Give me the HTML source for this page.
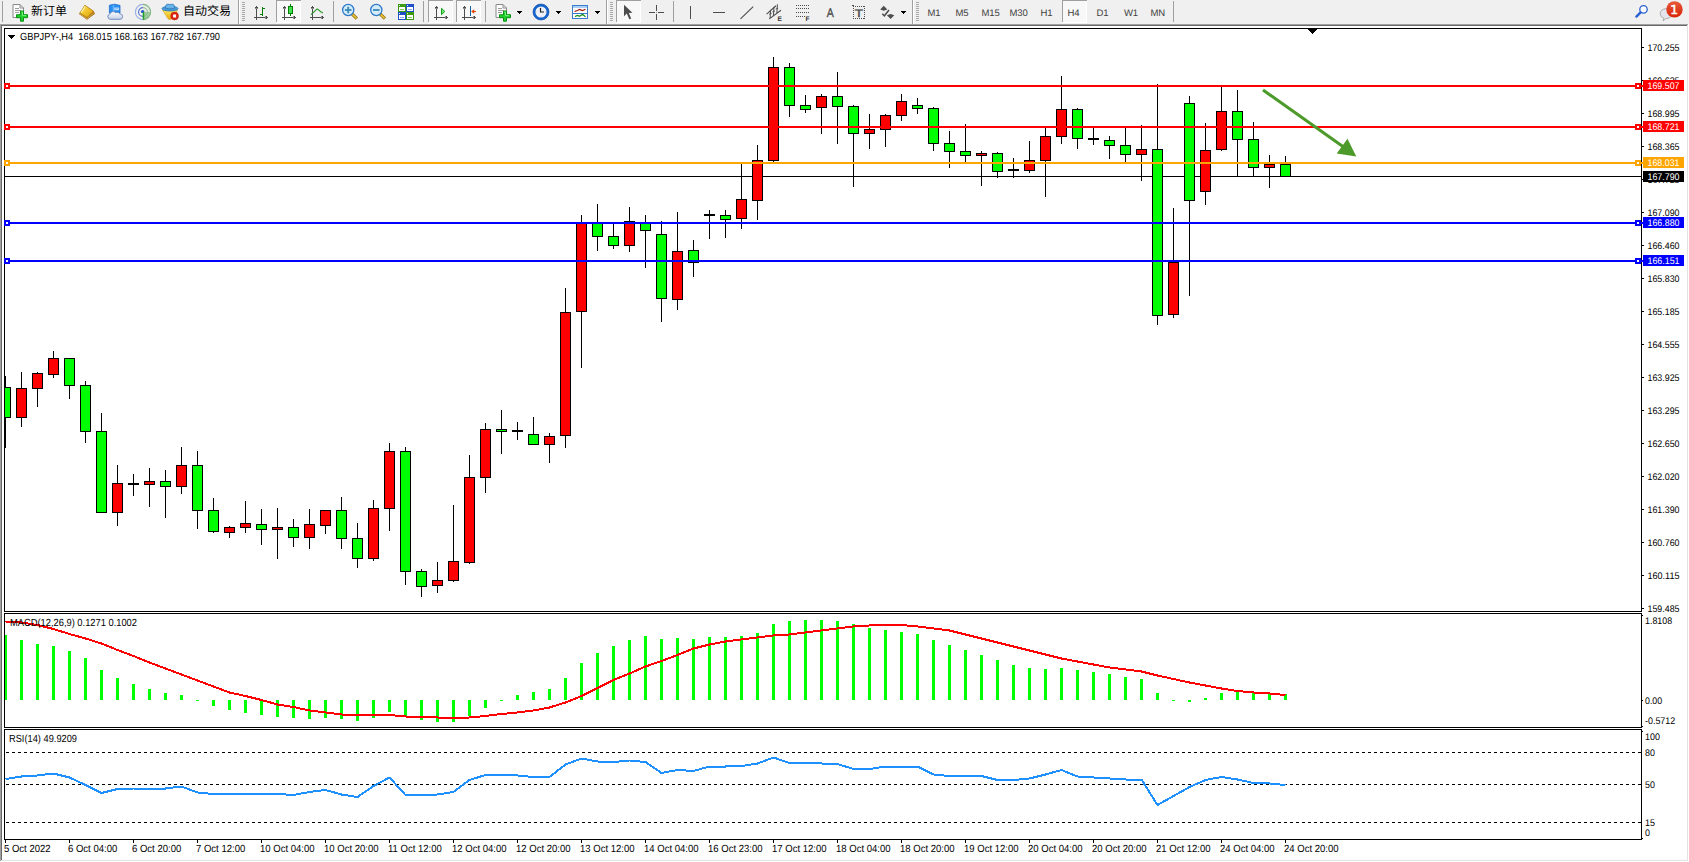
<!DOCTYPE html>
<html><head><meta charset="utf-8"><title>GBPJPY-,H4</title>
<style>
html,body{margin:0;padding:0;background:#f0f0f0;overflow:hidden}
svg{display:block;font-family:"Liberation Sans","Noto Sans CJK SC",sans-serif}
text{white-space:pre}
</style></head><body>
<svg width="1689" height="862" viewBox="0 0 1689 862" shape-rendering="crispEdges" text-rendering="geometricPrecision">
<rect x="0" y="0" width="1689" height="862" fill="#f0f0f0"/>
<rect x="0" y="24" width="1689" height="838" fill="#ffffff"/>
<rect x="0" y="24" width="1688" height="1" fill="#a0a0a0"/>
<rect x="0" y="24" width="1" height="837" fill="#a0a0a0"/>
<rect x="1" y="25" width="1686" height="1" fill="#696969"/>
<rect x="1" y="25" width="1" height="835" fill="#696969"/>
<rect x="1" y="860" width="1687" height="1" fill="#e3e3e3"/>
<rect x="1687" y="25" width="1" height="836" fill="#e3e3e3"/>
<rect x="4" y="28" width="1638" height="1" fill="#000"/>
<rect x="4" y="611" width="1638" height="1" fill="#000"/>
<rect x="4" y="28" width="1" height="584" fill="#000"/>
<rect x="1641" y="28" width="1" height="584" fill="#000"/>
<rect x="4" y="613" width="1638" height="1" fill="#000"/>
<rect x="4" y="727" width="1638" height="1" fill="#000"/>
<rect x="4" y="613" width="1" height="115" fill="#000"/>
<rect x="1641" y="613" width="1" height="115" fill="#000"/>
<rect x="4" y="729" width="1638" height="1" fill="#000"/>
<rect x="4" y="839" width="1638" height="1" fill="#000"/>
<rect x="4" y="729" width="1" height="111" fill="#000"/>
<rect x="1641" y="729" width="1" height="111" fill="#000"/>
<rect x="1642" y="47" width="2" height="1" fill="#000"/>
<text x="1647.5" y="51" font-size="9.6" fill="#000" textLength="32.0" lengthAdjust="spacingAndGlyphs">170.255</text>
<rect x="1642" y="80" width="2" height="1" fill="#000"/>
<text x="1647.5" y="84" font-size="9.6" fill="#000" textLength="32.0" lengthAdjust="spacingAndGlyphs">169.625</text>
<rect x="1642" y="113" width="2" height="1" fill="#000"/>
<text x="1647.5" y="117" font-size="9.6" fill="#000" textLength="32.0" lengthAdjust="spacingAndGlyphs">168.995</text>
<rect x="1642" y="146" width="2" height="1" fill="#000"/>
<text x="1647.5" y="150" font-size="9.6" fill="#000" textLength="32.0" lengthAdjust="spacingAndGlyphs">168.365</text>
<rect x="1642" y="179" width="2" height="1" fill="#000"/>
<text x="1647.5" y="183" font-size="9.6" fill="#000" textLength="32.0" lengthAdjust="spacingAndGlyphs">167.725</text>
<rect x="1642" y="212" width="2" height="1" fill="#000"/>
<text x="1647.5" y="216" font-size="9.6" fill="#000" textLength="32.0" lengthAdjust="spacingAndGlyphs">167.090</text>
<rect x="1642" y="245" width="2" height="1" fill="#000"/>
<text x="1647.5" y="249" font-size="9.6" fill="#000" textLength="32.0" lengthAdjust="spacingAndGlyphs">166.460</text>
<rect x="1642" y="278" width="2" height="1" fill="#000"/>
<text x="1647.5" y="282" font-size="9.6" fill="#000" textLength="32.0" lengthAdjust="spacingAndGlyphs">165.830</text>
<rect x="1642" y="311" width="2" height="1" fill="#000"/>
<text x="1647.5" y="315" font-size="9.6" fill="#000" textLength="32.0" lengthAdjust="spacingAndGlyphs">165.185</text>
<rect x="1642" y="344" width="2" height="1" fill="#000"/>
<text x="1647.5" y="348" font-size="9.6" fill="#000" textLength="32.0" lengthAdjust="spacingAndGlyphs">164.555</text>
<rect x="1642" y="377" width="2" height="1" fill="#000"/>
<text x="1647.5" y="381" font-size="9.6" fill="#000" textLength="32.0" lengthAdjust="spacingAndGlyphs">163.925</text>
<rect x="1642" y="410" width="2" height="1" fill="#000"/>
<text x="1647.5" y="414" font-size="9.6" fill="#000" textLength="32.0" lengthAdjust="spacingAndGlyphs">163.295</text>
<rect x="1642" y="443" width="2" height="1" fill="#000"/>
<text x="1647.5" y="447" font-size="9.6" fill="#000" textLength="32.0" lengthAdjust="spacingAndGlyphs">162.650</text>
<rect x="1642" y="476" width="2" height="1" fill="#000"/>
<text x="1647.5" y="480" font-size="9.6" fill="#000" textLength="32.0" lengthAdjust="spacingAndGlyphs">162.020</text>
<rect x="1642" y="509" width="2" height="1" fill="#000"/>
<text x="1647.5" y="513" font-size="9.6" fill="#000" textLength="32.0" lengthAdjust="spacingAndGlyphs">161.390</text>
<rect x="1642" y="542" width="2" height="1" fill="#000"/>
<text x="1647.5" y="546" font-size="9.6" fill="#000" textLength="32.0" lengthAdjust="spacingAndGlyphs">160.760</text>
<rect x="1642" y="575" width="2" height="1" fill="#000"/>
<text x="1647.5" y="579" font-size="9.6" fill="#000" textLength="32.0" lengthAdjust="spacingAndGlyphs">160.115</text>
<rect x="1642" y="608" width="2" height="1" fill="#000"/>
<text x="1647.5" y="612" font-size="9.6" fill="#000" textLength="32.0" lengthAdjust="spacingAndGlyphs">159.485</text>
<rect x="5" y="176" width="1636" height="1" fill="#000"/>
<g id="candles">
<rect x="5" y="376" width="1" height="72" fill="#000"/>
<rect x="0" y="387" width="11" height="31" fill="#000"/>
<rect x="1" y="388" width="9" height="29" fill="#00ff00"/>
<rect x="21" y="372" width="1" height="55" fill="#000"/>
<rect x="16" y="388" width="11" height="30" fill="#000"/>
<rect x="17" y="389" width="9" height="28" fill="#ff0000"/>
<rect x="37" y="372" width="1" height="35" fill="#000"/>
<rect x="32" y="373" width="11" height="16" fill="#000"/>
<rect x="33" y="374" width="9" height="14" fill="#ff0000"/>
<rect x="53" y="351" width="1" height="27" fill="#000"/>
<rect x="48" y="358" width="11" height="17" fill="#000"/>
<rect x="49" y="359" width="9" height="15" fill="#ff0000"/>
<rect x="69" y="358" width="1" height="41" fill="#000"/>
<rect x="64" y="358" width="11" height="28" fill="#000"/>
<rect x="65" y="359" width="9" height="26" fill="#00ff00"/>
<rect x="85" y="381" width="1" height="62" fill="#000"/>
<rect x="80" y="385" width="11" height="47" fill="#000"/>
<rect x="81" y="386" width="9" height="45" fill="#00ff00"/>
<rect x="101" y="413" width="1" height="100" fill="#000"/>
<rect x="96" y="431" width="11" height="82" fill="#000"/>
<rect x="97" y="432" width="9" height="80" fill="#00ff00"/>
<rect x="117" y="465" width="1" height="61" fill="#000"/>
<rect x="112" y="483" width="11" height="30" fill="#000"/>
<rect x="113" y="484" width="9" height="28" fill="#ff0000"/>
<rect x="133" y="474" width="1" height="22" fill="#000"/>
<rect x="128" y="483" width="11" height="2" fill="#000"/>
<rect x="149" y="468" width="1" height="39" fill="#000"/>
<rect x="144" y="481" width="11" height="4" fill="#000"/>
<rect x="145" y="482" width="9" height="2" fill="#ff0000"/>
<rect x="165" y="470" width="1" height="48" fill="#000"/>
<rect x="160" y="481" width="11" height="6" fill="#000"/>
<rect x="161" y="482" width="9" height="4" fill="#00ff00"/>
<rect x="181" y="447" width="1" height="47" fill="#000"/>
<rect x="176" y="465" width="11" height="22" fill="#000"/>
<rect x="177" y="466" width="9" height="20" fill="#ff0000"/>
<rect x="197" y="451" width="1" height="78" fill="#000"/>
<rect x="192" y="465" width="11" height="46" fill="#000"/>
<rect x="193" y="466" width="9" height="44" fill="#00ff00"/>
<rect x="213" y="498" width="1" height="35" fill="#000"/>
<rect x="208" y="510" width="11" height="22" fill="#000"/>
<rect x="209" y="511" width="9" height="20" fill="#00ff00"/>
<rect x="229" y="526" width="1" height="12" fill="#000"/>
<rect x="224" y="527" width="11" height="6" fill="#000"/>
<rect x="225" y="528" width="9" height="4" fill="#ff0000"/>
<rect x="245" y="501" width="1" height="32" fill="#000"/>
<rect x="240" y="523" width="11" height="5" fill="#000"/>
<rect x="241" y="524" width="9" height="3" fill="#ff0000"/>
<rect x="261" y="509" width="1" height="36" fill="#000"/>
<rect x="256" y="524" width="11" height="6" fill="#000"/>
<rect x="257" y="525" width="9" height="4" fill="#00ff00"/>
<rect x="277" y="508" width="1" height="51" fill="#000"/>
<rect x="272" y="527" width="11" height="3" fill="#000"/>
<rect x="273" y="528" width="9" height="1" fill="#ff0000"/>
<rect x="293" y="519" width="1" height="28" fill="#000"/>
<rect x="288" y="527" width="11" height="11" fill="#000"/>
<rect x="289" y="528" width="9" height="9" fill="#00ff00"/>
<rect x="309" y="509" width="1" height="40" fill="#000"/>
<rect x="304" y="524" width="11" height="14" fill="#000"/>
<rect x="305" y="525" width="9" height="12" fill="#ff0000"/>
<rect x="325" y="510" width="1" height="24" fill="#000"/>
<rect x="320" y="510" width="11" height="16" fill="#000"/>
<rect x="321" y="511" width="9" height="14" fill="#ff0000"/>
<rect x="341" y="497" width="1" height="52" fill="#000"/>
<rect x="336" y="510" width="11" height="29" fill="#000"/>
<rect x="337" y="511" width="9" height="27" fill="#00ff00"/>
<rect x="357" y="523" width="1" height="45" fill="#000"/>
<rect x="352" y="538" width="11" height="21" fill="#000"/>
<rect x="353" y="539" width="9" height="19" fill="#00ff00"/>
<rect x="373" y="500" width="1" height="61" fill="#000"/>
<rect x="368" y="508" width="11" height="51" fill="#000"/>
<rect x="369" y="509" width="9" height="49" fill="#ff0000"/>
<rect x="389" y="443" width="1" height="88" fill="#000"/>
<rect x="384" y="451" width="11" height="58" fill="#000"/>
<rect x="385" y="452" width="9" height="56" fill="#ff0000"/>
<rect x="405" y="447" width="1" height="138" fill="#000"/>
<rect x="400" y="451" width="11" height="121" fill="#000"/>
<rect x="401" y="452" width="9" height="119" fill="#00ff00"/>
<rect x="421" y="569" width="1" height="28" fill="#000"/>
<rect x="416" y="571" width="11" height="16" fill="#000"/>
<rect x="417" y="572" width="9" height="14" fill="#00ff00"/>
<rect x="437" y="562" width="1" height="31" fill="#000"/>
<rect x="432" y="580" width="11" height="6" fill="#000"/>
<rect x="433" y="581" width="9" height="4" fill="#ff0000"/>
<rect x="453" y="505" width="1" height="77" fill="#000"/>
<rect x="448" y="561" width="11" height="20" fill="#000"/>
<rect x="449" y="562" width="9" height="18" fill="#ff0000"/>
<rect x="469" y="455" width="1" height="109" fill="#000"/>
<rect x="464" y="477" width="11" height="86" fill="#000"/>
<rect x="465" y="478" width="9" height="84" fill="#ff0000"/>
<rect x="485" y="423" width="1" height="70" fill="#000"/>
<rect x="480" y="429" width="11" height="49" fill="#000"/>
<rect x="481" y="430" width="9" height="47" fill="#ff0000"/>
<rect x="501" y="410" width="1" height="44" fill="#000"/>
<rect x="496" y="429" width="11" height="3" fill="#000"/>
<rect x="497" y="430" width="9" height="1" fill="#00ff00"/>
<rect x="517" y="422" width="1" height="18" fill="#000"/>
<rect x="512" y="430" width="11" height="2" fill="#000"/>
<rect x="533" y="417" width="1" height="28" fill="#000"/>
<rect x="528" y="434" width="11" height="11" fill="#000"/>
<rect x="529" y="435" width="9" height="9" fill="#00ff00"/>
<rect x="549" y="433" width="1" height="30" fill="#000"/>
<rect x="544" y="436" width="11" height="9" fill="#000"/>
<rect x="545" y="437" width="9" height="7" fill="#ff0000"/>
<rect x="565" y="288" width="1" height="160" fill="#000"/>
<rect x="560" y="312" width="11" height="124" fill="#000"/>
<rect x="561" y="313" width="9" height="122" fill="#ff0000"/>
<rect x="581" y="215" width="1" height="153" fill="#000"/>
<rect x="576" y="222" width="11" height="90" fill="#000"/>
<rect x="577" y="223" width="9" height="88" fill="#ff0000"/>
<rect x="597" y="204" width="1" height="47" fill="#000"/>
<rect x="592" y="222" width="11" height="15" fill="#000"/>
<rect x="593" y="223" width="9" height="13" fill="#00ff00"/>
<rect x="613" y="222" width="1" height="27" fill="#000"/>
<rect x="608" y="236" width="11" height="10" fill="#000"/>
<rect x="609" y="237" width="9" height="8" fill="#00ff00"/>
<rect x="629" y="207" width="1" height="45" fill="#000"/>
<rect x="624" y="221" width="11" height="25" fill="#000"/>
<rect x="625" y="222" width="9" height="23" fill="#ff0000"/>
<rect x="645" y="215" width="1" height="53" fill="#000"/>
<rect x="640" y="222" width="11" height="9" fill="#000"/>
<rect x="641" y="223" width="9" height="7" fill="#00ff00"/>
<rect x="661" y="221" width="1" height="101" fill="#000"/>
<rect x="656" y="234" width="11" height="65" fill="#000"/>
<rect x="657" y="235" width="9" height="63" fill="#00ff00"/>
<rect x="677" y="212" width="1" height="98" fill="#000"/>
<rect x="672" y="251" width="11" height="49" fill="#000"/>
<rect x="673" y="252" width="9" height="47" fill="#ff0000"/>
<rect x="693" y="240" width="1" height="37" fill="#000"/>
<rect x="688" y="250" width="11" height="13" fill="#000"/>
<rect x="689" y="251" width="9" height="11" fill="#00ff00"/>
<rect x="709" y="210" width="1" height="29" fill="#000"/>
<rect x="704" y="214" width="11" height="2" fill="#000"/>
<rect x="725" y="210" width="1" height="28" fill="#000"/>
<rect x="720" y="215" width="11" height="5" fill="#000"/>
<rect x="721" y="216" width="9" height="3" fill="#00ff00"/>
<rect x="741" y="163" width="1" height="66" fill="#000"/>
<rect x="736" y="199" width="11" height="20" fill="#000"/>
<rect x="737" y="200" width="9" height="18" fill="#ff0000"/>
<rect x="757" y="145" width="1" height="75" fill="#000"/>
<rect x="752" y="160" width="11" height="41" fill="#000"/>
<rect x="753" y="161" width="9" height="39" fill="#ff0000"/>
<rect x="773" y="57" width="1" height="105" fill="#000"/>
<rect x="768" y="67" width="11" height="94" fill="#000"/>
<rect x="769" y="68" width="9" height="92" fill="#ff0000"/>
<rect x="789" y="63" width="1" height="54" fill="#000"/>
<rect x="784" y="67" width="11" height="39" fill="#000"/>
<rect x="785" y="68" width="9" height="37" fill="#00ff00"/>
<rect x="805" y="95" width="1" height="18" fill="#000"/>
<rect x="800" y="105" width="11" height="5" fill="#000"/>
<rect x="801" y="106" width="9" height="3" fill="#00ff00"/>
<rect x="821" y="94" width="1" height="40" fill="#000"/>
<rect x="816" y="96" width="11" height="12" fill="#000"/>
<rect x="817" y="97" width="9" height="10" fill="#ff0000"/>
<rect x="837" y="72" width="1" height="72" fill="#000"/>
<rect x="832" y="96" width="11" height="11" fill="#000"/>
<rect x="833" y="97" width="9" height="9" fill="#00ff00"/>
<rect x="853" y="105" width="1" height="82" fill="#000"/>
<rect x="848" y="106" width="11" height="28" fill="#000"/>
<rect x="849" y="107" width="9" height="26" fill="#00ff00"/>
<rect x="869" y="114" width="1" height="35" fill="#000"/>
<rect x="864" y="129" width="11" height="5" fill="#000"/>
<rect x="865" y="130" width="9" height="3" fill="#ff0000"/>
<rect x="885" y="114" width="1" height="33" fill="#000"/>
<rect x="880" y="115" width="11" height="15" fill="#000"/>
<rect x="881" y="116" width="9" height="13" fill="#ff0000"/>
<rect x="901" y="94" width="1" height="27" fill="#000"/>
<rect x="896" y="101" width="11" height="15" fill="#000"/>
<rect x="897" y="102" width="9" height="13" fill="#ff0000"/>
<rect x="917" y="98" width="1" height="16" fill="#000"/>
<rect x="912" y="105" width="11" height="4" fill="#000"/>
<rect x="913" y="106" width="9" height="2" fill="#00ff00"/>
<rect x="933" y="107" width="1" height="44" fill="#000"/>
<rect x="928" y="108" width="11" height="36" fill="#000"/>
<rect x="929" y="109" width="9" height="34" fill="#00ff00"/>
<rect x="949" y="131" width="1" height="37" fill="#000"/>
<rect x="944" y="143" width="11" height="9" fill="#000"/>
<rect x="945" y="144" width="9" height="7" fill="#00ff00"/>
<rect x="965" y="124" width="1" height="38" fill="#000"/>
<rect x="960" y="151" width="11" height="5" fill="#000"/>
<rect x="961" y="152" width="9" height="3" fill="#00ff00"/>
<rect x="981" y="151" width="1" height="35" fill="#000"/>
<rect x="976" y="153" width="11" height="3" fill="#000"/>
<rect x="977" y="154" width="9" height="1" fill="#ff0000"/>
<rect x="997" y="152" width="1" height="26" fill="#000"/>
<rect x="992" y="153" width="11" height="19" fill="#000"/>
<rect x="993" y="154" width="9" height="17" fill="#00ff00"/>
<rect x="1013" y="158" width="1" height="20" fill="#000"/>
<rect x="1008" y="169" width="11" height="2" fill="#000"/>
<rect x="1029" y="141" width="1" height="32" fill="#000"/>
<rect x="1024" y="160" width="11" height="11" fill="#000"/>
<rect x="1025" y="161" width="9" height="9" fill="#ff0000"/>
<rect x="1045" y="128" width="1" height="69" fill="#000"/>
<rect x="1040" y="136" width="11" height="25" fill="#000"/>
<rect x="1041" y="137" width="9" height="23" fill="#ff0000"/>
<rect x="1061" y="76" width="1" height="68" fill="#000"/>
<rect x="1056" y="109" width="11" height="28" fill="#000"/>
<rect x="1057" y="110" width="9" height="26" fill="#ff0000"/>
<rect x="1077" y="108" width="1" height="41" fill="#000"/>
<rect x="1072" y="109" width="11" height="30" fill="#000"/>
<rect x="1073" y="110" width="9" height="28" fill="#00ff00"/>
<rect x="1093" y="128" width="1" height="17" fill="#000"/>
<rect x="1088" y="138" width="11" height="2" fill="#000"/>
<rect x="1109" y="136" width="1" height="23" fill="#000"/>
<rect x="1104" y="140" width="11" height="6" fill="#000"/>
<rect x="1105" y="141" width="9" height="4" fill="#00ff00"/>
<rect x="1125" y="128" width="1" height="35" fill="#000"/>
<rect x="1120" y="145" width="11" height="10" fill="#000"/>
<rect x="1121" y="146" width="9" height="8" fill="#00ff00"/>
<rect x="1141" y="125" width="1" height="56" fill="#000"/>
<rect x="1136" y="149" width="11" height="6" fill="#000"/>
<rect x="1137" y="150" width="9" height="4" fill="#ff0000"/>
<rect x="1157" y="84" width="1" height="241" fill="#000"/>
<rect x="1152" y="149" width="11" height="167" fill="#000"/>
<rect x="1153" y="150" width="9" height="165" fill="#00ff00"/>
<rect x="1173" y="208" width="1" height="110" fill="#000"/>
<rect x="1168" y="262" width="11" height="53" fill="#000"/>
<rect x="1169" y="263" width="9" height="51" fill="#ff0000"/>
<rect x="1189" y="96" width="1" height="200" fill="#000"/>
<rect x="1184" y="103" width="11" height="98" fill="#000"/>
<rect x="1185" y="104" width="9" height="96" fill="#00ff00"/>
<rect x="1205" y="123" width="1" height="82" fill="#000"/>
<rect x="1200" y="150" width="11" height="42" fill="#000"/>
<rect x="1201" y="151" width="9" height="40" fill="#ff0000"/>
<rect x="1221" y="86" width="1" height="65" fill="#000"/>
<rect x="1216" y="111" width="11" height="39" fill="#000"/>
<rect x="1217" y="112" width="9" height="37" fill="#ff0000"/>
<rect x="1237" y="90" width="1" height="86" fill="#000"/>
<rect x="1232" y="111" width="11" height="29" fill="#000"/>
<rect x="1233" y="112" width="9" height="27" fill="#00ff00"/>
<rect x="1253" y="122" width="1" height="54" fill="#000"/>
<rect x="1248" y="139" width="11" height="29" fill="#000"/>
<rect x="1249" y="140" width="9" height="27" fill="#00ff00"/>
<rect x="1269" y="155" width="1" height="33" fill="#000"/>
<rect x="1264" y="164" width="11" height="4" fill="#000"/>
<rect x="1265" y="165" width="9" height="2" fill="#ff0000"/>
<rect x="1285" y="156" width="1" height="21" fill="#000"/>
<rect x="1280" y="164" width="11" height="13" fill="#000"/>
<rect x="1281" y="165" width="9" height="11" fill="#00ff00"/>
</g>
<rect x="2" y="30" width="2" height="580" fill="#fff"/>
<rect x="0" y="30" width="1" height="580" fill="#a0a0a0"/>
<rect x="1" y="30" width="1" height="580" fill="#696969"/>
<rect x="4" y="28" width="1" height="584" fill="#000"/>
<rect x="4" y="85" width="1639" height="2" fill="#ff0000"/>
<rect x="4" y="83" width="6" height="6" fill="#ff0000"/>
<rect x="6" y="85" width="2" height="2" fill="#fff"/>
<rect x="1635" y="83" width="6" height="6" fill="#ff0000"/>
<rect x="1637" y="85" width="2" height="2" fill="#fff"/>
<rect x="1643" y="80" width="41" height="11" fill="#ff0000"/>
<text x="1647.5" y="89" font-size="9.6" fill="#fff" textLength="32.0" lengthAdjust="spacingAndGlyphs">169.507</text>
<rect x="4" y="126" width="1639" height="2" fill="#ff0000"/>
<rect x="4" y="124" width="6" height="6" fill="#ff0000"/>
<rect x="6" y="126" width="2" height="2" fill="#fff"/>
<rect x="1635" y="124" width="6" height="6" fill="#ff0000"/>
<rect x="1637" y="126" width="2" height="2" fill="#fff"/>
<rect x="1643" y="121" width="41" height="11" fill="#ff0000"/>
<text x="1647.5" y="130" font-size="9.6" fill="#fff" textLength="32.0" lengthAdjust="spacingAndGlyphs">168.721</text>
<rect x="4" y="162" width="1639" height="2" fill="#ffa500"/>
<rect x="4" y="160" width="6" height="6" fill="#ffa500"/>
<rect x="6" y="162" width="2" height="2" fill="#fff"/>
<rect x="1635" y="160" width="6" height="6" fill="#ffa500"/>
<rect x="1637" y="162" width="2" height="2" fill="#fff"/>
<rect x="1643" y="157" width="41" height="11" fill="#ffa500"/>
<text x="1647.5" y="166" font-size="9.6" fill="#fff" textLength="32.0" lengthAdjust="spacingAndGlyphs">168.031</text>
<rect x="4" y="222" width="1639" height="2" fill="#0000ff"/>
<rect x="4" y="220" width="6" height="6" fill="#0000ff"/>
<rect x="6" y="222" width="2" height="2" fill="#fff"/>
<rect x="1635" y="220" width="6" height="6" fill="#0000ff"/>
<rect x="1637" y="222" width="2" height="2" fill="#fff"/>
<rect x="1643" y="217" width="41" height="11" fill="#0000ff"/>
<text x="1647.5" y="226" font-size="9.6" fill="#fff" textLength="32.0" lengthAdjust="spacingAndGlyphs">166.880</text>
<rect x="4" y="260" width="1639" height="2" fill="#0000ff"/>
<rect x="4" y="258" width="6" height="6" fill="#0000ff"/>
<rect x="6" y="260" width="2" height="2" fill="#fff"/>
<rect x="1635" y="258" width="6" height="6" fill="#0000ff"/>
<rect x="1637" y="260" width="2" height="2" fill="#fff"/>
<rect x="1643" y="255" width="41" height="11" fill="#0000ff"/>
<text x="1647.5" y="264" font-size="9.6" fill="#fff" textLength="32.0" lengthAdjust="spacingAndGlyphs">166.151</text>
<rect x="1643" y="171" width="41" height="11" fill="#000"/>
<text x="1647.5" y="180" font-size="9.6" fill="#fff" textLength="32.0" lengthAdjust="spacingAndGlyphs">167.790</text>
<g shape-rendering="geometricPrecision"><line x1="1263" y1="90" x2="1345" y2="148" stroke="#4c9a2a" stroke-width="3.0"/><polygon points="1356.3,156.5 1336.7,153.6 1347.5,138.8" fill="#4c9a2a"/></g>
<rect x="1308" y="29" width="9" height="1" fill="#000"/>
<rect x="1309" y="30" width="7" height="1" fill="#000"/>
<rect x="1310" y="31" width="5" height="1" fill="#000"/>
<rect x="1311" y="32" width="3" height="1" fill="#000"/>
<rect x="1312" y="33" width="1" height="1" fill="#000"/>
<polygon points="8,35 15,35 11.5,39" fill="#000"/>
<text x="20" y="40" font-size="10.3" fill="#000" textLength="200" lengthAdjust="spacingAndGlyphs">GBPJPY-,H4&#160; 168.015 168.163 167.782 167.790</text>
<rect x="4" y="635" width="3" height="65" fill="#00ff00"/>
<rect x="20" y="640" width="3" height="60" fill="#00ff00"/>
<rect x="36" y="644" width="3" height="56" fill="#00ff00"/>
<rect x="52" y="646" width="3" height="54" fill="#00ff00"/>
<rect x="68" y="651" width="3" height="49" fill="#00ff00"/>
<rect x="84" y="658" width="3" height="42" fill="#00ff00"/>
<rect x="100" y="670" width="3" height="30" fill="#00ff00"/>
<rect x="116" y="678" width="3" height="22" fill="#00ff00"/>
<rect x="132" y="684" width="3" height="16" fill="#00ff00"/>
<rect x="148" y="689" width="3" height="11" fill="#00ff00"/>
<rect x="164" y="693" width="3" height="7" fill="#00ff00"/>
<rect x="180" y="695" width="3" height="5" fill="#00ff00"/>
<rect x="196" y="700" width="3" height="1" fill="#00ff00"/>
<rect x="212" y="700" width="3" height="6" fill="#00ff00"/>
<rect x="228" y="700" width="3" height="10" fill="#00ff00"/>
<rect x="244" y="700" width="3" height="13" fill="#00ff00"/>
<rect x="260" y="700" width="3" height="15" fill="#00ff00"/>
<rect x="276" y="700" width="3" height="17" fill="#00ff00"/>
<rect x="292" y="700" width="3" height="18" fill="#00ff00"/>
<rect x="308" y="700" width="3" height="19" fill="#00ff00"/>
<rect x="324" y="700" width="3" height="18" fill="#00ff00"/>
<rect x="340" y="700" width="3" height="19" fill="#00ff00"/>
<rect x="356" y="700" width="3" height="21" fill="#00ff00"/>
<rect x="372" y="700" width="3" height="18" fill="#00ff00"/>
<rect x="388" y="700" width="3" height="12" fill="#00ff00"/>
<rect x="404" y="700" width="3" height="16" fill="#00ff00"/>
<rect x="420" y="700" width="3" height="20" fill="#00ff00"/>
<rect x="436" y="700" width="3" height="22" fill="#00ff00"/>
<rect x="452" y="700" width="3" height="22" fill="#00ff00"/>
<rect x="468" y="700" width="3" height="16" fill="#00ff00"/>
<rect x="484" y="700" width="3" height="8" fill="#00ff00"/>
<rect x="500" y="700" width="3" height="1" fill="#00ff00"/>
<rect x="516" y="695" width="3" height="5" fill="#00ff00"/>
<rect x="532" y="692" width="3" height="8" fill="#00ff00"/>
<rect x="548" y="689" width="3" height="11" fill="#00ff00"/>
<rect x="564" y="678" width="3" height="22" fill="#00ff00"/>
<rect x="580" y="663" width="3" height="37" fill="#00ff00"/>
<rect x="596" y="653" width="3" height="47" fill="#00ff00"/>
<rect x="612" y="646" width="3" height="54" fill="#00ff00"/>
<rect x="628" y="640" width="3" height="60" fill="#00ff00"/>
<rect x="644" y="636" width="3" height="64" fill="#00ff00"/>
<rect x="660" y="639" width="3" height="61" fill="#00ff00"/>
<rect x="676" y="638" width="3" height="62" fill="#00ff00"/>
<rect x="692" y="639" width="3" height="61" fill="#00ff00"/>
<rect x="708" y="637" width="3" height="63" fill="#00ff00"/>
<rect x="724" y="637" width="3" height="63" fill="#00ff00"/>
<rect x="740" y="636" width="3" height="64" fill="#00ff00"/>
<rect x="756" y="633" width="3" height="67" fill="#00ff00"/>
<rect x="772" y="624" width="3" height="76" fill="#00ff00"/>
<rect x="788" y="621" width="3" height="79" fill="#00ff00"/>
<rect x="804" y="620" width="3" height="80" fill="#00ff00"/>
<rect x="820" y="620" width="3" height="80" fill="#00ff00"/>
<rect x="836" y="621" width="3" height="79" fill="#00ff00"/>
<rect x="852" y="624" width="3" height="76" fill="#00ff00"/>
<rect x="868" y="628" width="3" height="72" fill="#00ff00"/>
<rect x="884" y="630" width="3" height="70" fill="#00ff00"/>
<rect x="900" y="632" width="3" height="68" fill="#00ff00"/>
<rect x="916" y="634" width="3" height="66" fill="#00ff00"/>
<rect x="932" y="640" width="3" height="60" fill="#00ff00"/>
<rect x="948" y="645" width="3" height="55" fill="#00ff00"/>
<rect x="964" y="650" width="3" height="50" fill="#00ff00"/>
<rect x="980" y="655" width="3" height="45" fill="#00ff00"/>
<rect x="996" y="660" width="3" height="40" fill="#00ff00"/>
<rect x="1012" y="665" width="3" height="35" fill="#00ff00"/>
<rect x="1028" y="668" width="3" height="32" fill="#00ff00"/>
<rect x="1044" y="669" width="3" height="31" fill="#00ff00"/>
<rect x="1060" y="668" width="3" height="32" fill="#00ff00"/>
<rect x="1076" y="670" width="3" height="30" fill="#00ff00"/>
<rect x="1092" y="672" width="3" height="28" fill="#00ff00"/>
<rect x="1108" y="674" width="3" height="26" fill="#00ff00"/>
<rect x="1124" y="677" width="3" height="23" fill="#00ff00"/>
<rect x="1140" y="679" width="3" height="21" fill="#00ff00"/>
<rect x="1156" y="693" width="3" height="7" fill="#00ff00"/>
<rect x="1172" y="700" width="3" height="1" fill="#00ff00"/>
<rect x="1188" y="700" width="3" height="2" fill="#00ff00"/>
<rect x="1204" y="698" width="3" height="2" fill="#00ff00"/>
<rect x="1220" y="693" width="3" height="7" fill="#00ff00"/>
<rect x="1236" y="691" width="3" height="9" fill="#00ff00"/>
<rect x="1252" y="693" width="3" height="7" fill="#00ff00"/>
<rect x="1268" y="693" width="3" height="7" fill="#00ff00"/>
<rect x="1284" y="694" width="3" height="6" fill="#00ff00"/>
<polyline points="5.5,621.5 21.5,622.5 37.5,625 53.5,629 69.5,634 85.5,638.5 101.5,643.5 117.5,650 133.5,656 149.5,662.5 165.5,668.5 181.5,674.5 197.5,680.5 213.5,686.5 229.5,692.5 245.5,696 261.5,700 277.5,704.5 293.5,707 309.5,710.5 325.5,712.5 341.5,714.5 357.5,715 373.5,715 389.5,715 405.5,716.5 421.5,717 437.5,717.5 453.5,718 469.5,717.5 485.5,716 501.5,714 517.5,712.5 533.5,710.5 549.5,707.5 565.5,702.5 581.5,696 597.5,688 613.5,680 629.5,673.5 645.5,666.5 661.5,661 677.5,655 693.5,648.5 709.5,644.5 725.5,641.5 741.5,639.5 757.5,637.5 773.5,635.5 789.5,634.5 805.5,632.5 821.5,630.5 837.5,628.5 853.5,626.5 869.5,625.5 885.5,625 901.5,625 917.5,626.5 933.5,628.5 949.5,630.5 965.5,634.5 981.5,638.5 997.5,642.5 1013.5,646.5 1029.5,650.5 1045.5,654.5 1061.5,658.5 1077.5,661.5 1093.5,664.5 1109.5,667.5 1125.5,669.5 1141.5,671.5 1157.5,675.5 1173.5,679 1189.5,682.5 1205.5,685.5 1221.5,688.5 1237.5,691 1253.5,692.5 1269.5,693.5 1285.5,695" fill="none" stroke="#ff0000" stroke-width="2" stroke-linejoin="bevel"/>
<rect x="2" y="614" width="2" height="113" fill="#fff"/>
<rect x="4" y="613" width="1" height="115" fill="#000"/>
<text x="10" y="626" font-size="10.3" fill="#000" textLength="127" lengthAdjust="spacingAndGlyphs">MACD(12,26,9) 0.1271 0.1002</text>
<rect x="1642" y="615" width="1" height="1" fill="#000"/>
<text x="1645" y="624" font-size="9.6" fill="#000" textLength="27.1" lengthAdjust="spacingAndGlyphs">1.8108</text>
<rect x="1642" y="700" width="1" height="1" fill="#000"/>
<text x="1645" y="704" font-size="9.6" fill="#000" textLength="17.2" lengthAdjust="spacingAndGlyphs">0.00</text>
<rect x="1642" y="726" width="1" height="1" fill="#000"/>
<text x="1645" y="724" font-size="9.6" fill="#000" textLength="30.2" lengthAdjust="spacingAndGlyphs">-0.5712</text>
<line x1="5" y1="752.5" x2="1641" y2="752.5" stroke="#000" stroke-width="1" stroke-dasharray="3 3" stroke-dashoffset="-1"/>
<line x1="5" y1="784.5" x2="1641" y2="784.5" stroke="#000" stroke-width="1" stroke-dasharray="3 3" stroke-dashoffset="-1"/>
<line x1="5" y1="822.5" x2="1641" y2="822.5" stroke="#000" stroke-width="1" stroke-dasharray="3 3" stroke-dashoffset="-1"/>
<polyline points="5.5,779 21.5,776.5 37.5,775.5 53.5,773.5 69.5,777.5 85.5,785 101.5,793 117.5,789 133.5,788.5 149.5,788.5 165.5,788.5 181.5,786.5 197.5,792.5 213.5,794 229.5,794 245.5,794 261.5,794 277.5,794 293.5,795 309.5,792 325.5,790 341.5,794.5 357.5,797 373.5,786 389.5,777.5 405.5,795 421.5,795 437.5,794.5 453.5,792 469.5,780 485.5,775 501.5,775 517.5,775.5 533.5,777 549.5,777 565.5,764.5 581.5,758.5 597.5,761.5 613.5,762 629.5,760.5 645.5,762 661.5,773 677.5,770 693.5,771 709.5,766.5 725.5,766.5 741.5,766 757.5,763.5 773.5,757.5 789.5,763 805.5,763 821.5,763.5 837.5,764 853.5,769 869.5,769 885.5,766.5 901.5,766.5 917.5,766.5 933.5,774.5 949.5,776 965.5,776 981.5,776 997.5,780 1013.5,780 1029.5,778.5 1045.5,774.5 1061.5,770 1077.5,776.5 1093.5,777.5 1109.5,778.5 1125.5,779.5 1141.5,779.5 1157.5,805 1173.5,796 1189.5,787 1205.5,780 1221.5,777 1237.5,779.5 1253.5,783 1269.5,783.5 1285.5,785" fill="none" stroke="#1e90ff" stroke-width="2" stroke-linejoin="bevel"/>
<rect x="2" y="730" width="2" height="109" fill="#fff"/>
<rect x="4" y="729" width="1" height="111" fill="#000"/>
<text x="9" y="742" font-size="10.3" fill="#000" textLength="68" lengthAdjust="spacingAndGlyphs">RSI(14) 49.9209</text>
<rect x="1642" y="731" width="1" height="1" fill="#000"/>
<text x="1645" y="740" font-size="9.6" fill="#000" textLength="14.9" lengthAdjust="spacingAndGlyphs">100</text>
<text x="1645" y="756" font-size="9.6" fill="#000" textLength="9.9" lengthAdjust="spacingAndGlyphs">80</text>
<text x="1645" y="788" font-size="9.6" fill="#000" textLength="9.9" lengthAdjust="spacingAndGlyphs">50</text>
<text x="1645" y="826" font-size="9.6" fill="#000" textLength="9.9" lengthAdjust="spacingAndGlyphs">15</text>
<text x="1645" y="836" font-size="9.6" fill="#000" textLength="5.0" lengthAdjust="spacingAndGlyphs">0</text>
<rect x="1642" y="838" width="1" height="1" fill="#000"/>
<rect x="5" y="840" width="1" height="3" fill="#000"/>
<text transform="translate(4,852) scale(0.925,1)" font-size="10.3" fill="#000">5 Oct 2022</text>
<rect x="69" y="840" width="1" height="3" fill="#000"/>
<text transform="translate(68,852) scale(0.925,1)" font-size="10.3" fill="#000">6 Oct 04:00</text>
<rect x="133" y="840" width="1" height="3" fill="#000"/>
<text transform="translate(132,852) scale(0.925,1)" font-size="10.3" fill="#000">6 Oct 20:00</text>
<rect x="197" y="840" width="1" height="3" fill="#000"/>
<text transform="translate(196,852) scale(0.925,1)" font-size="10.3" fill="#000">7 Oct 12:00</text>
<rect x="261" y="840" width="1" height="3" fill="#000"/>
<text transform="translate(260,852) scale(0.925,1)" font-size="10.3" fill="#000">10 Oct 04:00</text>
<rect x="325" y="840" width="1" height="3" fill="#000"/>
<text transform="translate(324,852) scale(0.925,1)" font-size="10.3" fill="#000">10 Oct 20:00</text>
<rect x="389" y="840" width="1" height="3" fill="#000"/>
<text transform="translate(388,852) scale(0.925,1)" font-size="10.3" fill="#000">11 Oct 12:00</text>
<rect x="453" y="840" width="1" height="3" fill="#000"/>
<text transform="translate(452,852) scale(0.925,1)" font-size="10.3" fill="#000">12 Oct 04:00</text>
<rect x="517" y="840" width="1" height="3" fill="#000"/>
<text transform="translate(516,852) scale(0.925,1)" font-size="10.3" fill="#000">12 Oct 20:00</text>
<rect x="581" y="840" width="1" height="3" fill="#000"/>
<text transform="translate(580,852) scale(0.925,1)" font-size="10.3" fill="#000">13 Oct 12:00</text>
<rect x="645" y="840" width="1" height="3" fill="#000"/>
<text transform="translate(644,852) scale(0.925,1)" font-size="10.3" fill="#000">14 Oct 04:00</text>
<rect x="709" y="840" width="1" height="3" fill="#000"/>
<text transform="translate(708,852) scale(0.925,1)" font-size="10.3" fill="#000">16 Oct 23:00</text>
<rect x="773" y="840" width="1" height="3" fill="#000"/>
<text transform="translate(772,852) scale(0.925,1)" font-size="10.3" fill="#000">17 Oct 12:00</text>
<rect x="837" y="840" width="1" height="3" fill="#000"/>
<text transform="translate(836,852) scale(0.925,1)" font-size="10.3" fill="#000">18 Oct 04:00</text>
<rect x="901" y="840" width="1" height="3" fill="#000"/>
<text transform="translate(900,852) scale(0.925,1)" font-size="10.3" fill="#000">18 Oct 20:00</text>
<rect x="965" y="840" width="1" height="3" fill="#000"/>
<text transform="translate(964,852) scale(0.925,1)" font-size="10.3" fill="#000">19 Oct 12:00</text>
<rect x="1029" y="840" width="1" height="3" fill="#000"/>
<text transform="translate(1028,852) scale(0.925,1)" font-size="10.3" fill="#000">20 Oct 04:00</text>
<rect x="1093" y="840" width="1" height="3" fill="#000"/>
<text transform="translate(1092,852) scale(0.925,1)" font-size="10.3" fill="#000">20 Oct 20:00</text>
<rect x="1157" y="840" width="1" height="3" fill="#000"/>
<text transform="translate(1156,852) scale(0.925,1)" font-size="10.3" fill="#000">21 Oct 12:00</text>
<rect x="1221" y="840" width="1" height="3" fill="#000"/>
<text transform="translate(1220,852) scale(0.925,1)" font-size="10.3" fill="#000">24 Oct 04:00</text>
<rect x="1285" y="840" width="1" height="3" fill="#000"/>
<text transform="translate(1284,852) scale(0.925,1)" font-size="10.3" fill="#000">24 Oct 20:00</text>
<defs><linearGradient id="bk" x1="0" y1="0" x2="1" y2="1"><stop offset="0" stop-color="#fae878"/><stop offset="0.5" stop-color="#f0c428"/><stop offset="1" stop-color="#d89c10"/></linearGradient><linearGradient id="cl" x1="0" y1="0" x2="0" y2="1"><stop offset="0" stop-color="#ffffff"/><stop offset="1" stop-color="#c4d0e6"/></linearGradient><linearGradient id="fc" x1="0" y1="0" x2="0" y2="1"><stop offset="0" stop-color="#fce860"/><stop offset="1" stop-color="#e8a808"/></linearGradient><linearGradient id="rg" x1="0" y1="0" x2="0" y2="1"><stop offset="0" stop-color="#e8583a"/><stop offset="1" stop-color="#d82408"/></linearGradient></defs>
<rect x="2" y="1" width="1" height="21" fill="#a0a0a0"/>
<g shape-rendering="geometricPrecision"><path d="M13,4.5 h7 l3.5,3.5 v9.5 h-10.5 z" fill="#fdfdfd" stroke="#8a8a8a" stroke-width="1"/><path d="M20,4.5 v3.5 h3.5" fill="none" stroke="#8a8a8a" stroke-width="1"/><path d="M15,8.5 h4 M15,10.5 h6 M15,12.5 h4" stroke="#9a9a9a" stroke-width="1"/><path d="M20.5,11 h3 v3.7 h4 v3 h-4 v3.5 h-3 v-3.5 h-4 v-3 h4 z" fill="#1fd02a" stroke="#0b8f14" stroke-width="1"/><path d="M21.5,12 h1 v3.6 h3.5" fill="none" stroke="#7dfa86" stroke-width="0.9"/></g>
<text x="31" y="14.6" font-size="12" fill="#000">新订单</text>
<g shape-rendering="geometricPrecision"><path d="M84.7,5 Q82.5,9.5 79,13.9 L87,19.7 L95,13.7 L93.7,11 Z" fill="#a86c0c"/><path d="M80.2,14.2 L87.1,18.6 L94,12.8" fill="none" stroke="#e8c878" stroke-width="0.7"/><path d="M84.8,5.3 Q82.8,9.3 79.8,13 L87.2,17.4 L93.4,11.2 Z" fill="url(#bk)" stroke="#b88010" stroke-width="0.6"/><path d="M85,6.6 Q83.4,9.8 81.2,12.6" fill="none" stroke="#fff4b0" stroke-width="1.1"/></g>
<g shape-rendering="geometricPrecision"><path d="M109.4,5.2 L114.4,4.2 L120,5.4 V13 H109.4 Z" fill="#2a90f0" stroke="#1a6ad0" stroke-width="0.8"/><path d="M113.3,5 V13" stroke="#8cc8ff" stroke-width="0.8"/><rect x="114.3" y="7.6" width="4.8" height="2.6" fill="#d8ecff"/><path d="M114.6,8.9 h4" stroke="#5aa0e8" stroke-width="0.8"/><path d="M110.2,19.3 a2.7,2.7 0 0 1 -0.3,-5.3 a3.3,3 0 0 1 5.8,-1.3 a2.7,2.5 0 0 1 4.1,1.1 a2.6,2.7 0 0 1 0.3,5.5 z" fill="url(#cl)" stroke="#6484bc" stroke-width="0.9"/></g>
<g shape-rendering="geometricPrecision" fill="none"><path d="M143.2,12 L143.2,19.7 A7.7,7.7 0 0 0 150.7,12 Z" fill="#62b062" opacity="0.55" stroke="none"/><path d="M143.2,12 L150.7,12 A7.7,7.7 0 0 0 143.2,4.3 Z" fill="#a8c8a8" opacity="0.2" stroke="none"/><path d="M143,4.4 a7.6,7.6 0 0 0 0,15.2" stroke="#7f9ce0" stroke-width="1.1" opacity="0.8"/><path d="M143,4.4 a7.6,7.6 0 0 1 0,15.2" stroke="#6aa86a" stroke-width="1.1" opacity="0.8"/><path d="M143,7.6 a4.4,4.4 0 0 0 0,8.8" stroke="#4a70d0" stroke-width="1.1"/><path d="M143,7.6 a4.4,4.4 0 0 1 0,8.8" stroke="#7ab07a" stroke-width="1" opacity="0.8"/><circle cx="142.6" cy="11.6" r="1.7" fill="#2858c8" stroke="none"/><path d="M143.5,12.2 V19.6" stroke="#22a022" stroke-width="1.5"/></g>
<g shape-rendering="geometricPrecision"><path d="M162.6,10.3 L177.6,10.3 L170.6,19.6 L168.4,19.2 Z" fill="url(#fc)" stroke="#d0a018" stroke-width="0.6"/><ellipse cx="170" cy="8.6" rx="8" ry="2.4" fill="#4a9ad8" stroke="#2a78b8" stroke-width="0.8"/><path d="M165.4,8.2 Q165.4,3.8 168,4.2 Q170,4.8 172,4.2 Q174.6,3.8 174.6,8.2 Q170,9.6 165.4,8.2 Z" fill="#6ab4e8" stroke="#2a78b8" stroke-width="0.8"/><circle cx="174.6" cy="16" r="3.9" fill="#dc2410" stroke="#b01808" stroke-width="0.5"/><rect x="173.1" y="14.5" width="3" height="3" fill="#fff"/></g>
<text x="183" y="14.6" font-size="12" fill="#000">自动交易</text>
<rect x="238" y="0" width="1" height="24" fill="#a0a0a0"/>
<rect x="239" y="0" width="1" height="24" fill="#ffffff"/>
<rect x="242" y="2" width="3" height="1" fill="#a8a8a8"/>
<rect x="242" y="4" width="3" height="1" fill="#a8a8a8"/>
<rect x="242" y="6" width="3" height="1" fill="#a8a8a8"/>
<rect x="242" y="8" width="3" height="1" fill="#a8a8a8"/>
<rect x="242" y="10" width="3" height="1" fill="#a8a8a8"/>
<rect x="242" y="12" width="3" height="1" fill="#a8a8a8"/>
<rect x="242" y="14" width="3" height="1" fill="#a8a8a8"/>
<rect x="242" y="16" width="3" height="1" fill="#a8a8a8"/>
<rect x="242" y="18" width="3" height="1" fill="#a8a8a8"/>
<rect x="242" y="20" width="3" height="1" fill="#a8a8a8"/>
<rect x="256" y="6" width="1" height="14" fill="#4d4d4d"/>
<rect x="254" y="17" width="14" height="1" fill="#4d4d4d"/>
<rect x="255" y="7" width="3" height="1" fill="#4d4d4d"/>
<rect x="255" y="8" width="3" height="1" fill="#8a8a8a"/>
<rect x="266" y="16" width="1" height="3" fill="#4d4d4d"/>
<rect x="265" y="16" width="1" height="3" fill="#8a8a8a"/>
<rect x="262" y="7" width="1" height="9" fill="#008000"/>
<rect x="263" y="8" width="2" height="1" fill="#008000"/>
<rect x="260" y="14" width="2" height="1" fill="#008000"/>
<rect x="276" y="0" width="25" height="23" fill="#f8f8f8"/>
<rect x="276" y="0" width="25" height="1" fill="#a0a0a0"/>
<rect x="276" y="0" width="1" height="22" fill="#a0a0a0"/>
<rect x="277" y="22" width="24" height="1" fill="#ffffff"/>
<rect x="300" y="1" width="1" height="22" fill="#ffffff"/>
<rect x="284" y="6" width="1" height="14" fill="#4d4d4d"/>
<rect x="282" y="17" width="14" height="1" fill="#4d4d4d"/>
<rect x="283" y="7" width="3" height="1" fill="#4d4d4d"/>
<rect x="283" y="8" width="3" height="1" fill="#8a8a8a"/>
<rect x="294" y="16" width="1" height="3" fill="#4d4d4d"/>
<rect x="293" y="16" width="1" height="3" fill="#8a8a8a"/>
<rect x="290" y="4" width="1" height="12" fill="#008000"/>
<rect x="288" y="6" width="5" height="8" fill="#008000"/>
<rect x="289" y="7" width="3" height="6" fill="#40e050"/>
<rect x="312" y="6" width="1" height="14" fill="#4d4d4d"/>
<rect x="310" y="17" width="14" height="1" fill="#4d4d4d"/>
<rect x="311" y="7" width="3" height="1" fill="#4d4d4d"/>
<rect x="311" y="8" width="3" height="1" fill="#8a8a8a"/>
<rect x="322" y="16" width="1" height="3" fill="#4d4d4d"/>
<rect x="321" y="16" width="1" height="3" fill="#8a8a8a"/>
<path d="M311,14.5 Q314,12 316,9.8 Q317.3,8.6 318.6,9.8 Q320.5,12 323,13" fill="none" stroke="#2a9a2a" stroke-width="1.1" shape-rendering="geometricPrecision"/>
<rect x="333" y="1" width="1" height="21" fill="#a0a0a0"/>
<g shape-rendering="geometricPrecision"><path d="M352.0,13.8 L356.8,18.6" stroke="#9a7410" stroke-width="3.2" stroke-linecap="butt"/><path d="M352.4,14.2 L356.4,18.2" stroke="#e8c838" stroke-width="1.6"/><circle cx="348.2" cy="10" r="5.6" fill="#d4ecfa" stroke="#2a78c8" stroke-width="1.3"/><path d="M344.9,10 h6.6" stroke="#3a88b8" stroke-width="1.8"/><path d="M348.2,6.7 v6.6" stroke="#3a88b8" stroke-width="1.8"/></g>
<g shape-rendering="geometricPrecision"><path d="M380.1,13.8 L384.90000000000003,18.6" stroke="#9a7410" stroke-width="3.2" stroke-linecap="butt"/><path d="M380.5,14.2 L384.5,18.2" stroke="#e8c838" stroke-width="1.6"/><circle cx="376.3" cy="10" r="5.6" fill="#d4ecfa" stroke="#2a78c8" stroke-width="1.3"/><path d="M373.0,10 h6.6" stroke="#3a88b8" stroke-width="1.8"/></g>
<rect x="398" y="4" width="8" height="8" fill="#3a9a10"/>
<rect x="399" y="7" width="6" height="4" fill="#fff"/>
<rect x="400" y="9" width="4" height="1" fill="#8ad060"/>
<rect x="399" y="5" width="1" height="1" fill="#e0f0e0"/>
<rect x="406" y="4" width="8" height="8" fill="#2050c8"/>
<rect x="407" y="7" width="6" height="4" fill="#fff"/>
<rect x="408" y="9" width="4" height="1" fill="#88a8f0"/>
<rect x="407" y="5" width="1" height="1" fill="#e0f0e0"/>
<rect x="398" y="12" width="8" height="8" fill="#2050c8"/>
<rect x="399" y="15" width="6" height="4" fill="#fff"/>
<rect x="400" y="17" width="4" height="1" fill="#88a8f0"/>
<rect x="399" y="13" width="1" height="1" fill="#e0f0e0"/>
<rect x="406" y="12" width="8" height="8" fill="#3a9a10"/>
<rect x="407" y="15" width="6" height="4" fill="#fff"/>
<rect x="408" y="17" width="4" height="1" fill="#8ad060"/>
<rect x="407" y="13" width="1" height="1" fill="#e0f0e0"/>
<rect x="423" y="1" width="1" height="21" fill="#a0a0a0"/>
<rect x="428" y="0" width="25" height="23" fill="#f8f8f8"/>
<rect x="428" y="0" width="25" height="1" fill="#a0a0a0"/>
<rect x="428" y="0" width="1" height="22" fill="#a0a0a0"/>
<rect x="429" y="22" width="24" height="1" fill="#ffffff"/>
<rect x="452" y="1" width="1" height="22" fill="#ffffff"/>
<rect x="436" y="6" width="1" height="14" fill="#4d4d4d"/>
<rect x="434" y="17" width="14" height="1" fill="#4d4d4d"/>
<rect x="435" y="7" width="3" height="1" fill="#4d4d4d"/>
<rect x="435" y="8" width="3" height="1" fill="#8a8a8a"/>
<rect x="446" y="16" width="1" height="3" fill="#4d4d4d"/>
<rect x="445" y="16" width="1" height="3" fill="#8a8a8a"/>
<polygon points="441.5,8.3 444.8,11.5 441.5,14.7" fill="#70e878" stroke="#10a018" stroke-width="1" shape-rendering="geometricPrecision"/>
<rect x="456" y="0" width="25" height="23" fill="#f8f8f8"/>
<rect x="456" y="0" width="25" height="1" fill="#a0a0a0"/>
<rect x="456" y="0" width="1" height="22" fill="#a0a0a0"/>
<rect x="457" y="22" width="24" height="1" fill="#ffffff"/>
<rect x="480" y="1" width="1" height="22" fill="#ffffff"/>
<rect x="464" y="6" width="1" height="14" fill="#4d4d4d"/>
<rect x="462" y="17" width="14" height="1" fill="#4d4d4d"/>
<rect x="463" y="7" width="3" height="1" fill="#4d4d4d"/>
<rect x="463" y="8" width="3" height="1" fill="#8a8a8a"/>
<rect x="474" y="16" width="1" height="3" fill="#4d4d4d"/>
<rect x="473" y="16" width="1" height="3" fill="#8a8a8a"/>
<rect x="470" y="6" width="1" height="10" fill="#1060a0"/>
<g shape-rendering="geometricPrecision"><polygon points="471.2,11.5 474.2,9.2 474.2,13.8" fill="#e04000"/><rect x="474" y="11" width="2" height="1" fill="#e04000"/></g>
<rect x="485" y="1" width="1" height="21" fill="#a0a0a0"/>
<g shape-rendering="geometricPrecision"><path d="M496,4.5 h7 l3.5,3.5 v9.5 h-10.5 z" fill="#fdfdfd" stroke="#8a8a8a" stroke-width="1"/><path d="M503,4.5 v3.5 h3.5" fill="none" stroke="#8a8a8a" stroke-width="1"/><path d="M498,8.5 h4 M498,10.5 h6 M498,12.5 h4" stroke="#9a9a9a" stroke-width="1"/><path d="M503.5,11 h3 v3.7 h4 v3 h-4 v3.5 h-3 v-3.5 h-4 v-3 h4 z" fill="#1fd02a" stroke="#0b8f14" stroke-width="1"/><path d="M504.5,12 h1 v3.6 h3.5" fill="none" stroke="#7dfa86" stroke-width="0.9"/></g>
<rect x="517" y="11" width="5" height="1" fill="#000"/>
<rect x="518" y="12" width="3" height="1" fill="#000"/>
<rect x="519" y="13" width="1" height="1" fill="#000"/>
<g shape-rendering="geometricPrecision"><circle cx="541" cy="12" r="6.8" fill="#eef2f8" stroke="#1566d0" stroke-width="2.5"/><circle cx="541" cy="12" r="8" fill="none" stroke="#0c48a0" stroke-width="0.6"/><path d="M540.5,8 V12 H544" fill="none" stroke="#202020" stroke-width="1.2"/><path d="M541,6.3 v1 M541,16.7 v1 M535.3,12 h1 M545.7,12 h1" stroke="#8a9ab0" stroke-width="0.9"/></g>
<rect x="556" y="11" width="5" height="1" fill="#000"/>
<rect x="557" y="12" width="3" height="1" fill="#000"/>
<rect x="558" y="13" width="1" height="1" fill="#000"/>
<rect x="572" y="5" width="16" height="14" fill="#3a7cc8"/>
<rect x="573" y="6" width="14" height="2" fill="#a8d0f8"/>
<rect x="573" y="8" width="14" height="5" fill="#fff"/>
<rect x="573" y="14" width="14" height="4" fill="#fff"/>
<g shape-rendering="geometricPrecision" fill="none"><path d="M574.5,11.5 l3,-1 l2,-1 l3,1 l3,-1.2" stroke="#a01808" stroke-width="1.2"/><path d="M575,16.5 l2.5,-1 l2,0.8 l3,-2 l3,2.5" stroke="#109018" stroke-width="1.2"/></g>
<rect x="595" y="11" width="5" height="1" fill="#000"/>
<rect x="596" y="12" width="3" height="1" fill="#000"/>
<rect x="597" y="13" width="1" height="1" fill="#000"/>
<rect x="606" y="0" width="1" height="24" fill="#a0a0a0"/>
<rect x="607" y="0" width="1" height="24" fill="#ffffff"/>
<rect x="610" y="2" width="3" height="1" fill="#a8a8a8"/>
<rect x="610" y="4" width="3" height="1" fill="#a8a8a8"/>
<rect x="610" y="6" width="3" height="1" fill="#a8a8a8"/>
<rect x="610" y="8" width="3" height="1" fill="#a8a8a8"/>
<rect x="610" y="10" width="3" height="1" fill="#a8a8a8"/>
<rect x="610" y="12" width="3" height="1" fill="#a8a8a8"/>
<rect x="610" y="14" width="3" height="1" fill="#a8a8a8"/>
<rect x="610" y="16" width="3" height="1" fill="#a8a8a8"/>
<rect x="610" y="18" width="3" height="1" fill="#a8a8a8"/>
<rect x="610" y="20" width="3" height="1" fill="#a8a8a8"/>
<rect x="616" y="0" width="25" height="23" fill="#f8f8f8"/>
<rect x="616" y="0" width="25" height="1" fill="#a0a0a0"/>
<rect x="616" y="0" width="1" height="22" fill="#a0a0a0"/>
<rect x="617" y="22" width="24" height="1" fill="#ffffff"/>
<rect x="640" y="1" width="1" height="22" fill="#ffffff"/>
<polygon points="624,4.8 624,16.2 626.8,13.6 629.3,19.3 631.2,18.4 628.8,13 632.4,12.7" fill="#4d4d4d" shape-rendering="geometricPrecision"/>
<rect x="656" y="5" width="1" height="6" fill="#4d4d4d"/>
<rect x="656" y="14" width="1" height="6" fill="#4d4d4d"/>
<rect x="649" y="12" width="6" height="1" fill="#4d4d4d"/>
<rect x="658" y="12" width="6" height="1" fill="#4d4d4d"/>
<rect x="656" y="12" width="1" height="1" fill="#9a9a7a"/>
<rect x="673" y="1" width="1" height="21" fill="#a0a0a0"/>
<rect x="690" y="6" width="1" height="13" fill="#4d4d4d"/>
<rect x="713" y="12" width="12" height="1" fill="#4d4d4d"/>
<g shape-rendering="geometricPrecision" stroke="#4d4d4d" fill="none"><path d="M740.5,18.9 L753.2,6.6" stroke-width="1.1"/><path d="M766.6,14.1 L776,5.8 M769.3,18.9 L781,10.2" stroke-width="1.15"/><path d="M770.6,9.8 L770.1,18.2 M774,6.8 L773.4,15.8 M777.4,4.2 L776.9,13" stroke-width="1"/><path d="M769.2,14.2 l2.4,-0.8 M772.4,11.8 l2.6,-0.8 M775.8,9 l2.4,-0.8" stroke-width="0.9"/></g>
<text x="777.6" y="20.8" font-size="6.6" font-weight="bold" fill="#303030">E</text>
<rect x="796" y="5" width="1" height="1" fill="#4d4d4d"/>
<rect x="798" y="5" width="1" height="1" fill="#4d4d4d"/>
<rect x="800" y="5" width="1" height="1" fill="#4d4d4d"/>
<rect x="802" y="5" width="1" height="1" fill="#4d4d4d"/>
<rect x="804" y="5" width="1" height="1" fill="#4d4d4d"/>
<rect x="806" y="5" width="1" height="1" fill="#4d4d4d"/>
<rect x="808" y="5" width="1" height="1" fill="#4d4d4d"/>
<rect x="796" y="8" width="1" height="1" fill="#4d4d4d"/>
<rect x="798" y="8" width="1" height="1" fill="#4d4d4d"/>
<rect x="800" y="8" width="1" height="1" fill="#4d4d4d"/>
<rect x="802" y="8" width="1" height="1" fill="#4d4d4d"/>
<rect x="804" y="8" width="1" height="1" fill="#4d4d4d"/>
<rect x="806" y="8" width="1" height="1" fill="#4d4d4d"/>
<rect x="808" y="8" width="1" height="1" fill="#4d4d4d"/>
<rect x="796" y="12" width="1" height="1" fill="#4d4d4d"/>
<rect x="798" y="12" width="1" height="1" fill="#4d4d4d"/>
<rect x="800" y="12" width="1" height="1" fill="#4d4d4d"/>
<rect x="802" y="12" width="1" height="1" fill="#4d4d4d"/>
<rect x="804" y="12" width="1" height="1" fill="#4d4d4d"/>
<rect x="806" y="12" width="1" height="1" fill="#4d4d4d"/>
<rect x="808" y="12" width="1" height="1" fill="#4d4d4d"/>
<rect x="796" y="16" width="1" height="1" fill="#4d4d4d"/>
<rect x="798" y="16" width="1" height="1" fill="#4d4d4d"/>
<rect x="800" y="16" width="1" height="1" fill="#4d4d4d"/>
<rect x="802" y="16" width="1" height="1" fill="#4d4d4d"/>
<rect x="804" y="16" width="1" height="1" fill="#4d4d4d"/>
<text x="805.4" y="20.8" font-size="6.6" font-weight="bold" fill="#303030">F</text>
<text transform="translate(826.7,17) scale(0.84,1)" font-size="12.6" fill="#4d4d4d" stroke="#4d4d4d" stroke-width="0.35">A</text>
<rect x="853" y="6" width="1" height="1" fill="#4d4d4d"/>
<rect x="853" y="18" width="1" height="1" fill="#4d4d4d"/>
<rect x="855" y="6" width="1" height="1" fill="#4d4d4d"/>
<rect x="855" y="18" width="1" height="1" fill="#4d4d4d"/>
<rect x="857" y="6" width="1" height="1" fill="#4d4d4d"/>
<rect x="857" y="18" width="1" height="1" fill="#4d4d4d"/>
<rect x="859" y="6" width="1" height="1" fill="#4d4d4d"/>
<rect x="859" y="18" width="1" height="1" fill="#4d4d4d"/>
<rect x="861" y="6" width="1" height="1" fill="#4d4d4d"/>
<rect x="861" y="18" width="1" height="1" fill="#4d4d4d"/>
<rect x="863" y="6" width="1" height="1" fill="#4d4d4d"/>
<rect x="863" y="18" width="1" height="1" fill="#4d4d4d"/>
<rect x="853" y="6" width="1" height="1" fill="#4d4d4d"/>
<rect x="864" y="6" width="1" height="1" fill="#4d4d4d"/>
<rect x="853" y="8" width="1" height="1" fill="#4d4d4d"/>
<rect x="864" y="8" width="1" height="1" fill="#4d4d4d"/>
<rect x="853" y="10" width="1" height="1" fill="#4d4d4d"/>
<rect x="864" y="10" width="1" height="1" fill="#4d4d4d"/>
<rect x="853" y="12" width="1" height="1" fill="#4d4d4d"/>
<rect x="864" y="12" width="1" height="1" fill="#4d4d4d"/>
<rect x="853" y="14" width="1" height="1" fill="#4d4d4d"/>
<rect x="864" y="14" width="1" height="1" fill="#4d4d4d"/>
<rect x="853" y="16" width="1" height="1" fill="#4d4d4d"/>
<rect x="864" y="16" width="1" height="1" fill="#4d4d4d"/>
<rect x="853" y="18" width="1" height="1" fill="#4d4d4d"/>
<rect x="864" y="18" width="1" height="1" fill="#4d4d4d"/>
<rect x="852" y="5" width="2" height="1" fill="#4d4d4d"/>
<text x="854.8" y="16.6" font-size="10.5" fill="#4d4d4d" stroke="#4d4d4d" stroke-width="0.35" textLength="8.4" lengthAdjust="spacingAndGlyphs">T</text>
<g shape-rendering="geometricPrecision"><polygon points="880.2,9.6 883.7,5.8 887.3,9.6 883.7,10.8" fill="#4d4d4d"/><polygon points="886.9,15.2 890.6,14.1 894.3,15.2 890.6,19.1" fill="#4d4d4d"/><path d="M882.3,13.7 L884.4,15.8 L889,10" fill="none" stroke="#4d4d4d" stroke-width="1.5"/></g>
<rect x="901" y="11" width="5" height="1" fill="#000"/>
<rect x="902" y="12" width="3" height="1" fill="#000"/>
<rect x="903" y="13" width="1" height="1" fill="#000"/>
<rect x="912" y="0" width="1" height="24" fill="#a0a0a0"/>
<rect x="913" y="0" width="1" height="24" fill="#ffffff"/>
<rect x="916" y="2" width="3" height="1" fill="#a8a8a8"/>
<rect x="916" y="4" width="3" height="1" fill="#a8a8a8"/>
<rect x="916" y="6" width="3" height="1" fill="#a8a8a8"/>
<rect x="916" y="8" width="3" height="1" fill="#a8a8a8"/>
<rect x="916" y="10" width="3" height="1" fill="#a8a8a8"/>
<rect x="916" y="12" width="3" height="1" fill="#a8a8a8"/>
<rect x="916" y="14" width="3" height="1" fill="#a8a8a8"/>
<rect x="916" y="16" width="3" height="1" fill="#a8a8a8"/>
<rect x="916" y="18" width="3" height="1" fill="#a8a8a8"/>
<rect x="916" y="20" width="3" height="1" fill="#a8a8a8"/>
<rect x="1062" y="0" width="25" height="23" fill="#f8f8f8"/>
<rect x="1062" y="0" width="25" height="1" fill="#a0a0a0"/>
<rect x="1062" y="0" width="1" height="22" fill="#a0a0a0"/>
<rect x="1063" y="22" width="24" height="1" fill="#ffffff"/>
<rect x="1086" y="1" width="1" height="22" fill="#ffffff"/>
<text x="927.4" y="15.8" font-size="9.5" fill="#404040">M1</text>
<text x="955.4" y="15.8" font-size="9.5" fill="#404040">M5</text>
<text x="981.4" y="15.8" font-size="9.5" fill="#404040">M15</text>
<text x="1009.4" y="15.8" font-size="9.5" fill="#404040">M30</text>
<text x="1040.4" y="15.8" font-size="9.5" fill="#404040">H1</text>
<text x="1067.4" y="15.8" font-size="9.5" fill="#404040">H4</text>
<text x="1096.4" y="15.8" font-size="9.5" fill="#404040">D1</text>
<text x="1123.9" y="15.8" font-size="9.5" fill="#404040">W1</text>
<text x="1150.4" y="15.8" font-size="9.5" fill="#404040">MN</text>
<rect x="1173" y="1" width="1" height="21" fill="#a0a0a0"/>
<g shape-rendering="geometricPrecision"><circle cx="1643.5" cy="9.4" r="3.7" fill="#fafcff" stroke="#2a60d0" stroke-width="1.3"/><path d="M1640.6,12.4 L1636.4,16.6" stroke="#2a60d0" stroke-width="2.4" stroke-linecap="round"/><path d="M1660.2,13.6 a5.8,5 0 1 1 6.6,5 h-1 l-2.6,2.3 l0.5,-2.7 a5.4,5 0 0 1 -3.5,-4.6 z" fill="#e4e4ec" stroke="#a4a4a4" stroke-width="0.9"/><circle cx="1674.5" cy="9.4" r="8.2" fill="url(#rg)"/></g>
<text x="1670.3" y="13.7" font-size="12.3" font-family="DejaVu Sans, Liberation Sans, sans-serif" fill="#fff" stroke="#fff" stroke-width="0.5">1</text>
</svg>
</body></html>
